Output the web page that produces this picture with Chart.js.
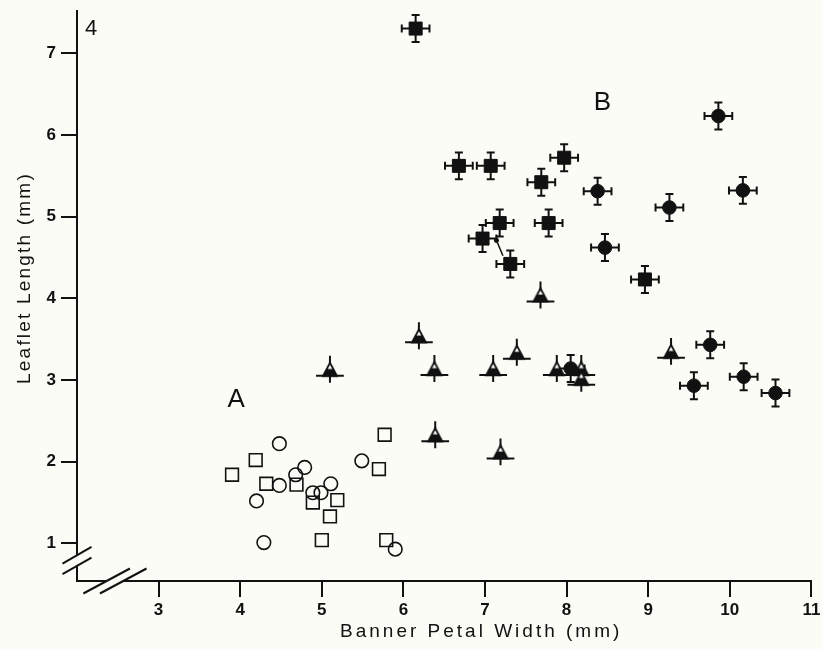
<!DOCTYPE html>
<html>
<head>
<meta charset="utf-8">
<script src="https://cdn.jsdelivr.net/npm/chart.js@4.4.0/dist/chart.umd.min.js"></script>
<style>
  html, body { margin: 0; padding: 0; background: #fcfcf6; }
  #contenedor { width: 822px; height: 649px; }
</style>
</head>
<body>
<div id="contenedor"><canvas id="grafico"></canvas></div>
<script>
// Ejes
const xTicks = [3, 4, 5, 6, 7, 8, 9, 10, 11];
const yTicks = [1, 2, 3, 4, 5, 6, 7];
const xMin = 2, xMax = 11, yMin = 0.54, yMax = 7.52;
const corteX = 2.465, corteY = 0.79;

// Grupo A (sin barras de error)
const circAbiertoX = [4.48, 4.79, 4.68, 4.48, 4.20, 5.11, 4.89, 4.99, 5.49, 4.29, 5.90];
const circAbiertoY = [2.22, 1.93, 1.84, 1.71, 1.52, 1.73, 1.62, 1.62, 2.01, 1.01, 0.93];
const cuadAbiertoX = [5.77, 4.19, 3.90, 4.32, 4.69, 5.70, 4.89, 5.19, 5.10, 5.00, 5.79];
const cuadAbiertoY = [2.33, 2.02, 1.84, 1.73, 1.72, 1.91, 1.50, 1.53, 1.33, 1.04, 1.04];

// Grupo B (con barras de error)
const cuadLlenoX = [6.15, 6.68, 7.07, 7.97, 7.69, 7.18, 7.78, 6.97, 7.31, 8.96];
const cuadLlenoY = [7.30, 5.62, 5.62, 5.72, 5.42, 4.92, 4.92, 4.73, 4.42, 4.23];
const circLlenoX = [9.86, 8.38, 9.26, 10.16, 8.47, 9.76, 9.56, 10.17, 10.56, 8.05];
const circLlenoY = [6.23, 5.31, 5.11, 5.32, 4.62, 3.43, 2.93, 3.04, 2.84, 3.14];
const trianguloX = [7.68, 6.19, 6.38, 7.10, 7.39, 7.88, 8.18, 8.18, 6.39, 7.19, 5.10, 9.28];
const trianguloY = [4.04, 3.54, 3.14, 3.14, 3.34, 3.14, 3.14, 3.02, 2.33, 2.12, 3.13, 3.35];
const errorX = 0.17, errorY = 0.165;

// Flecha pequeña entre dos cuadrados
const flechaX = [7.14, 7.22];
const flechaY = [4.71, 4.52];

// Letras dentro del grafico
const letras = ["A", "B"];
const letrasX = [3.95, 8.44];
const letrasY = [2.78, 6.42];

const fuente = "'Liberation Sans', Arial, Helvetica, sans-serif";
const colorFondo = "#fcfcf6";
const negro = "#111";

function puntos(xs, ys){
    return xs.map((x, i) => ({ x: x, y: ys[i] }));
}

// Triangulo con la mitad inferior rellena
function crearTriangulo(){
    const c = document.createElement("canvas");
    c.width = 18; c.height = 18;
    const g = c.getContext("2d");
    g.beginPath();
    g.moveTo(9, 2.5); g.lineTo(16, 15.5); g.lineTo(2, 15.5); g.closePath();
    g.fillStyle = "#fff"; g.fill();
    g.save(); g.clip();
    g.fillStyle = negro; g.fillRect(0, 8.6, 18, 10);
    g.restore();
    g.lineWidth = 1.8; g.strokeStyle = negro; g.stroke();
    return c;
}

const pluginErrores = {
    id: "barrasError",
    beforeDatasetsDraw(chart){
        const ctx = chart.ctx, sx = chart.scales.x, sy = chart.scales.y;
        chart.data.datasets.forEach((ds, i) => {
            if(!ds.errX) return;
            const meta = chart.getDatasetMeta(i);
            ctx.save();
            ctx.strokeStyle = negro;
            ctx.lineWidth = 2;
            meta.data.forEach((p, j) => {
                const v = ds.data[j];
                const dx = sx.getPixelForValue(v.x + ds.errX) - p.x;
                const dy = p.y - sy.getPixelForValue(v.y + ds.errY);
                const yh = p.y + (ds.desplazaH || 0);
                ctx.beginPath();
                ctx.moveTo(p.x - dx, yh); ctx.lineTo(p.x + dx, yh);
                ctx.moveTo(p.x, p.y - dy); ctx.lineTo(p.x, p.y + dy);
                if(ds.topes){
                    const t = 4;
                    ctx.moveTo(p.x - dx, yh - t); ctx.lineTo(p.x - dx, yh + t);
                    ctx.moveTo(p.x + dx, yh - t); ctx.lineTo(p.x + dx, yh + t);
                    ctx.moveTo(p.x - t, p.y - dy); ctx.lineTo(p.x + t, p.y - dy);
                    ctx.moveTo(p.x - t, p.y + dy); ctx.lineTo(p.x + t, p.y + dy);
                }
                ctx.stroke();
            });
            ctx.restore();
        });
    }
};

const pluginTextos = {
    id: "textos",
    afterDraw(chart){
        const ctx = chart.ctx, sx = chart.scales.x, sy = chart.scales.y;
        const ca = chart.chartArea;
        ctx.save();

        //Cortes de los ejes
        ctx.strokeStyle = negro;
        ctx.lineWidth = 2;
        const yb = sy.getPixelForValue(corteY);
        ctx.fillStyle = colorFondo;
        ctx.fillRect(ca.left - 3, yb - 5, 6, 10);
        [-5.3, 5.3].forEach(o => {
            ctx.beginPath();
            ctx.moveTo(ca.left - 14.5, yb + o + 8.3);
            ctx.lineTo(ca.left + 14.5, yb + o - 8.3);
            ctx.stroke();
        });
        const xb = sx.getPixelForValue(corteX);
        ctx.fillRect(xb - 8, ca.bottom - 3, 16, 6);
        [-8.3, 8.3].forEach(o => {
            ctx.beginPath();
            ctx.moveTo(xb + o - 23.3, ca.bottom + 12.5);
            ctx.lineTo(xb + o + 23.3, ca.bottom - 12.5);
            ctx.stroke();
        });

        //Letras A, B y numero de panel
        ctx.fillStyle = negro;
        ctx.textAlign = "center";
        ctx.textBaseline = "alphabetic";
        ctx.font = "26px " + fuente;
        letras.forEach((l, i) => {
            ctx.fillText(l, sx.getPixelForValue(letrasX[i]), sy.getPixelForValue(letrasY[i]) + 9.3);
        });
        ctx.font = "22px " + fuente;
        ctx.fillText("4", ca.left + 14, ca.top + 24);

        //Titulos de los ejes
        ctx.font = "19px " + fuente;
        ctx.letterSpacing = "3px";
        ctx.fillText("Banner Petal Width (mm)", (ca.left + ca.right) / 2 + 37, 637);
        ctx.letterSpacing = "2.2px";
        ctx.translate(30, 278);
        ctx.rotate(-Math.PI / 2);
        ctx.fillText("Leaflet Length (mm)", 0, 0);
        ctx.restore();
    }
};

const imgTriangulo = crearTriangulo();

new Chart(document.getElementById("grafico"), {
    type: "scatter",
    data: {
        datasets: [
            {
                label: "Triangulos",
                data: puntos(trianguloX, trianguloY),
                pointStyle: imgTriangulo,
                pointRadius: 9,
                errX: errorX, errY: errorY, topes: false, desplazaH: 6.5,
                order: 0
            },
            {
                label: "Circulos llenos",
                data: puntos(circLlenoX, circLlenoY),
                pointStyle: "circle",
                pointRadius: 6.8,
                pointBackgroundColor: negro,
                pointBorderColor: negro,
                pointBorderWidth: 1,
                errX: errorX, errY: errorY, topes: true,
                order: 1
            },
            {
                label: "Cuadrados llenos",
                data: puntos(cuadLlenoX, cuadLlenoY),
                pointStyle: "rect",
                pointRadius: 9.2,
                pointBackgroundColor: negro,
                pointBorderColor: negro,
                pointBorderWidth: 1,
                errX: errorX, errY: errorY, topes: true,
                order: 1
            },
            {
                label: "Flecha",
                type: "line",
                data: puntos(flechaX, flechaY),
                showLine: true,
                borderColor: negro,
                borderWidth: 1.5,
                pointRadius: [2.5, 0],
                pointBackgroundColor: negro,
                pointBorderWidth: 0,
                order: 1
            },
            {
                label: "Circulos abiertos",
                data: puntos(circAbiertoX, circAbiertoY),
                pointStyle: "circle",
                pointRadius: 6.8,
                pointBackgroundColor: "rgba(0,0,0,0)",
                pointBorderColor: negro,
                pointBorderWidth: 1.6,
                order: 2
            },
            {
                label: "Cuadrados abiertos",
                data: puntos(cuadAbiertoX, cuadAbiertoY),
                pointStyle: "rect",
                pointRadius: 9,
                pointBackgroundColor: "rgba(0,0,0,0)",
                pointBorderColor: negro,
                pointBorderWidth: 1.6,
                order: 2
            }
        ]
    },
    plugins: [pluginErrores, pluginTextos],
    options: {
        responsive: true,
        maintainAspectRatio: false,
        animation: false,
        layout: { padding: { top: 7, right: 10, left: 0, bottom: 0 } },
        plugins: {
            legend: { display: false },
            tooltip: { enabled: false }
        },
        scales: {
            x: {
                type: "linear",
                min: xMin, max: xMax,
                afterBuildTicks: s => { s.ticks = xTicks.map(v => ({ value: v })); },
                afterFit: s => { s.height = 68; s.paddingLeft = 0; s.paddingRight = 0; },
                border: { display: true, color: negro, width: 2 },
                grid: { drawOnChartArea: false, drawTicks: true, tickLength: 16, color: negro, lineWidth: 2 },
                ticks: { color: negro, padding: 3, font: { family: fuente, size: 17, weight: "bold" } }
            },
            y: {
                type: "linear",
                min: yMin, max: yMax,
                afterBuildTicks: s => { s.ticks = yTicks.map(v => ({ value: v })); },
                afterFit: s => { s.width = 77; s.paddingTop = 0; s.paddingBottom = 0; },
                border: { display: true, color: negro, width: 2 },
                grid: { drawOnChartArea: false, drawTicks: true, tickLength: 16, color: negro, lineWidth: 2 },
                ticks: { color: negro, padding: 5, font: { family: fuente, size: 17, weight: "bold" } }
            }
        }
    }
});
</script>
</body>
</html>
